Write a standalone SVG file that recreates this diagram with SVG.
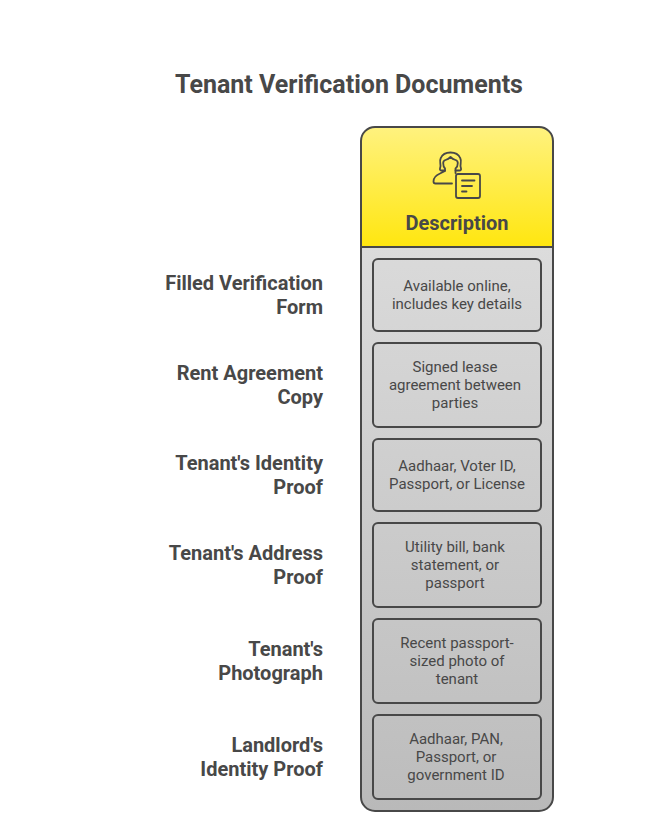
<svg xmlns="http://www.w3.org/2000/svg" width="666" height="838" viewBox="0 0 666 838">
<style>
text{font-family:Roboto,"Liberation Sans",sans-serif;fill:#484848}
.t{font-size:25px;font-weight:700;text-anchor:middle}
.l{font-size:20px;font-weight:700;text-anchor:end}
.d{font-size:15px;text-anchor:middle}
.b{fill:none;stroke:#484848;stroke-width:2}
.i{fill:none;stroke:#484848;stroke-width:1.800;stroke-linecap:round;stroke-linejoin:round}
</style>
<defs>
<linearGradient id="y" x1="0" y1="0" x2="0" y2="1"><stop offset="0" stop-color="#fff27f"/><stop offset="1" stop-color="#ffe60f"/></linearGradient>
<linearGradient id="g" gradientUnits="userSpaceOnUse" x1="0" y1="247" x2="0" y2="811"><stop offset="0" stop-color="#dcdcdc"/><stop offset="1" stop-color="#b9b9b9"/></linearGradient>
<linearGradient id="c" gradientUnits="userSpaceOnUse" x1="0" y1="247" x2="0" y2="811"><stop offset="0" stop-color="#dadada"/><stop offset="1" stop-color="#bcbcbc"/></linearGradient>
</defs>
<rect width="666" height="838" fill="#fff"/>
<text id="title" class="t" x="349" y="93">Tenant Verification Documents</text>
<g id="column">
<path d="M361 247V141a14 14 0 0 1 14-14H539a14 14 0 0 1 14 14V247Z" fill="url(#y)"/>
<path d="M361 247H553V797a14 14 0 0 1-14 14H375a14 14 0 0 1-14-14Z" fill="url(#g)"/>
<rect class="b" x="361" y="127" width="192" height="684" rx="14"/>
<path class="b" d="M361 247H553"/>
</g>
<g id="header">
<path class="i" d="M452 183.500H435.500q-2 0-2-2c0-4 3-6.500 6.500-8l5-2.500V170.500H441.500c-1.200 0-1.800-.8-1.500-2 .5-1.500 .8-3 .3-5-.5-2-.5-3.500 .5-5.500 1.500-3.500 4.500-5.500 9.700-5.500s8.200 2 9.700 5.500c1 2 1 3.500 .5 5.500-.5 2-.2 3.500 .3 5 .3 1.200-.3 2-1.500 2H455.500V173"/>
<path class="i" d="M445 170.500V168.500c-1-1-1.800-3-1.800-5.500 0-1.500 .8-2.500 2.300-3 2-.6 3.500-1.500 5-3 1.500 1.500 3 2.400 5 3 1.500 .5 2.300 1.500 2.300 3 0 2.500-1 4.500-2.300 5.500V170.500"/>
<rect class="i" x="456" y="174" width="24" height="24" rx="2"/>
<path class="i" d="M462 180.500H474.500M462 186H472M462 191.500H466.500"/>
<text class="t" x="457" y="230" style="font-size:20px">Description</text>
</g>
<g id="row1"><text class="l" x="323" y="290">Filled Verification</text><text class="l" x="323" y="314">Form</text>
<rect class="b" x="373" y="259" width="168" height="72" rx="5" style="fill:url(#c)"/>
<text class="d" x="457" y="291">Available online,</text><text class="d" x="457" y="309">includes key details</text></g>
<g id="row2"><text class="l" x="323" y="380">Rent Agreement</text><text class="l" x="323" y="404">Copy</text>
<rect class="b" x="373" y="343" width="168" height="84" rx="5" style="fill:url(#c)"/>
<text class="d" x="455" y="372">Signed lease</text><text class="d" x="455" y="390">agreement between</text><text class="d" x="455" y="408">parties</text></g>
<g id="row3"><text class="l" x="323" y="470">Tenant's Identity</text><text class="l" x="323" y="494">Proof</text>
<rect class="b" x="373" y="439" width="168" height="72" rx="5" style="fill:url(#c)"/>
<text class="d" x="457" y="471">Aadhaar, Voter ID,</text><text class="d" x="457" y="489">Passport, or License</text></g>
<g id="row4"><text class="l" x="323" y="560">Tenant's Address</text><text class="l" x="323" y="584">Proof</text>
<rect class="b" x="373" y="523" width="168" height="84" rx="5" style="fill:url(#c)"/>
<text class="d" x="455" y="552">Utility bill, bank</text><text class="d" x="455" y="570">statement, or</text><text class="d" x="455" y="588">passport</text></g>
<g id="row5"><text class="l" x="323" y="656">Tenant's</text><text class="l" x="323" y="680">Photograph</text>
<rect class="b" x="373" y="619" width="168" height="84" rx="5" style="fill:url(#c)"/>
<text class="d" x="457" y="648">Recent passport-</text><text class="d" x="457" y="666">sized photo of</text><text class="d" x="457" y="684">tenant</text></g>
<g id="row6"><text class="l" x="323" y="752">Landlord's</text><text class="l" x="323" y="776">Identity Proof</text>
<rect class="b" x="373" y="715" width="168" height="84" rx="5" style="fill:url(#c)"/>
<text class="d" x="456" y="744">Aadhaar, PAN,</text><text class="d" x="456" y="762">Passport, or</text><text class="d" x="456" y="780">government ID</text></g>
<g id="connectors"/>
</svg>
